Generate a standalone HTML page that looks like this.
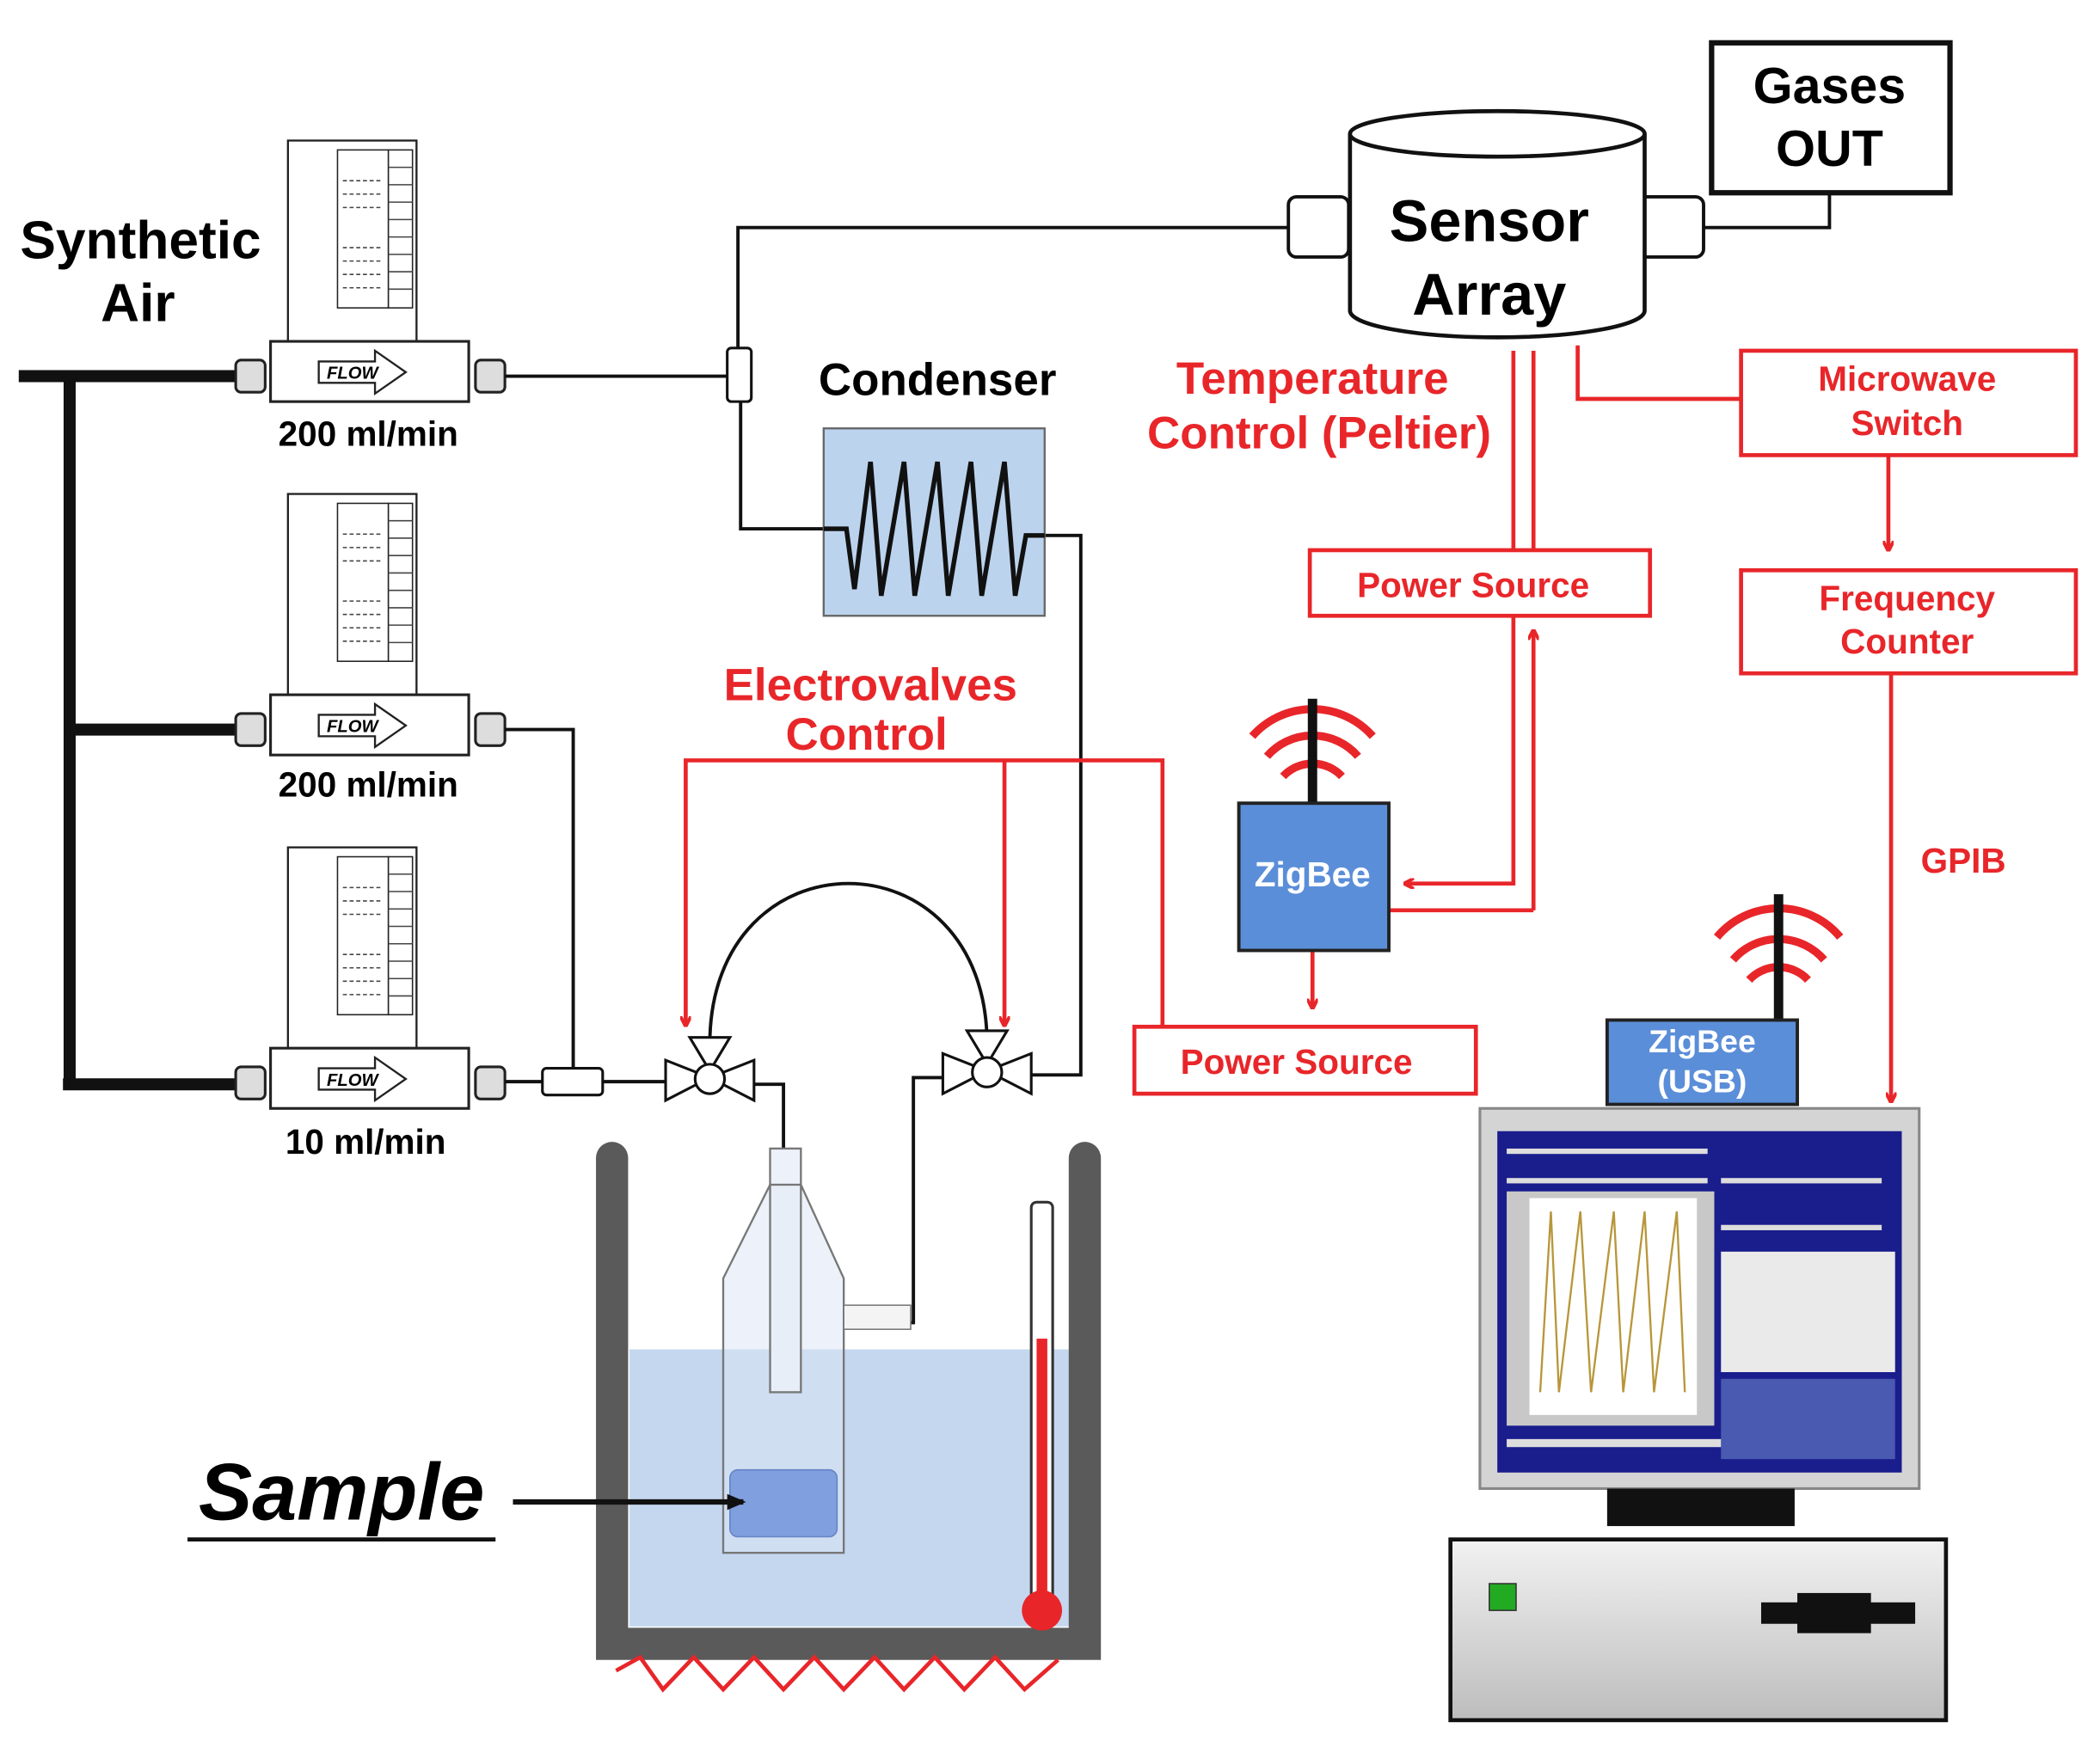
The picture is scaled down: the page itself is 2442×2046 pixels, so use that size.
<!DOCTYPE html>
<html><head><meta charset="utf-8"><style>
html,body{margin:0;padding:0;background:#fff}
svg{display:block}
text{font-family:"Liberation Sans",sans-serif;font-weight:bold}
</style></head><body>
<svg width="2442" height="2046" viewBox="0 0 1568 1314" preserveAspectRatio="none" xmlns="http://www.w3.org/2000/svg">
<defs>
<marker id="ar" markerWidth="8" markerHeight="8" refX="6" refY="4" orient="auto" markerUnits="userSpaceOnUse"><path d="M0,0 L8,4 L0,8" fill="none" stroke="#e8262a" stroke-width="2.5"/></marker>
<marker id="ab" markerWidth="14" markerHeight="12" refX="12" refY="6" orient="auto" markerUnits="userSpaceOnUse"><path d="M0,0 L14,6 L0,12 Z" fill="#111"/></marker>
<linearGradient id="pc" x1="0" y1="0" x2="0" y2="1"><stop offset="0" stop-color="#f2f2f2"/><stop offset="1" stop-color="#bdbdbd"/></linearGradient>
</defs>
<rect width="1568" height="1314" fill="#fff"/>

<!-- Synthetic air -->
<text x="105" y="193" font-size="40" text-anchor="middle">Synthetic</text>
<text x="103" y="240" font-size="40" text-anchor="middle">Air</text>
<g stroke="#111" stroke-width="9" fill="none">
<path d="M14,281 H178"/><path d="M52,281 V812"/><path d="M52,545 H178"/><path d="M47,810 H178"/>
</g>

<!-- flowmeters -->
<g id="fm">
<rect x="215" y="105" width="96" height="150" fill="#fff" stroke="#222" stroke-width="1.5"/>
<rect x="252" y="112" width="38" height="118" fill="#fff" stroke="#222"/>
<rect x="290" y="112" width="18" height="118" fill="#fff" stroke="#222"/>
<g stroke="#444" stroke-width="1"><path d="M290,125H308M290,138H308M290,151H308M290,164H308M290,177H308M290,190H308M290,203H308M290,216H308"/>
<path d="M256,135H285M256,145H285M256,155H285M256,185H285M256,195H285M256,205H285M256,215H285" stroke-dasharray="3 2"/></g>
<rect x="202" y="255" width="148" height="45" fill="#fff" stroke="#222" stroke-width="2"/>
<path d="M238,270 H280 V262 L303,278 L280,294 V286 H238 Z" fill="#fff" stroke="#222" stroke-width="1.5"/>
<text x="244" y="283" font-size="13" font-weight="normal" font-style="italic">FLOW</text>
<rect x="176" y="269" width="22" height="24" rx="4" fill="#ddd" stroke="#222" stroke-width="2"/>
<rect x="355" y="269" width="22" height="24" rx="4" fill="#ddd" stroke="#222" stroke-width="2"/>
</g>
<use href="#fm" y="264"/>
<use href="#fm" y="528"/>
<text x="275" y="333" font-size="26" text-anchor="middle">200 ml/min</text>
<text x="275" y="595" font-size="26" text-anchor="middle">200 ml/min</text>
<text x="273" y="862" font-size="26" text-anchor="middle">10 ml/min</text>

<!-- gas lines -->
<g stroke="#111" stroke-width="2.5" fill="none">
<path d="M377,281 H545"/><path d="M551,262 V170 H962"/><path d="M553,300 V395 H615"/>
<path d="M377,545 H428 V800"/><path d="M377,808 H405"/><path d="M450,808 H497"/>
<path d="M770,400 H807 V803 H770"/>
<path d="M530,780 C530,620 737,620 737,780"/>
<path d="M563,810 H585 V858"/>
<path d="M705,805 H682 V988 H630"/>
<path d="M1272,170 H1366 V145"/>
</g>
<rect x="543" y="260" width="18" height="40" rx="3" fill="#fff" stroke="#111" stroke-width="2"/>
<rect x="405" y="798" width="45" height="20" rx="3" fill="#fff" stroke="#111" stroke-width="2"/>

<!-- condenser -->
<text x="700" y="295" font-size="34" text-anchor="middle">Condenser</text>
<rect x="615" y="320" width="165" height="140" fill="#bcd3ee" stroke="#666" stroke-width="1.5"/>
<path d="M615,395 H632 L638,440 L650,345 L658,445 L675,345 L683,445 L700,345 L708,445 L725,345 L733,445 L750,345 L758,445 L766,400 H780" fill="none" stroke="#111" stroke-width="3.5"/>

<!-- valves -->
<g id="vl" fill="#fff" stroke="#111" stroke-width="2">
<path d="M497,792 L530,805 L497,822 Z"/><path d="M563,792 L530,805 L563,822 Z"/><path d="M515,775 H545 L530,800 Z"/><circle cx="530" cy="806" r="11"/>
</g>
<use href="#vl" x="207" y="-5"/>

<!-- bath -->
<rect x="470" y="1008" width="330" height="207" fill="#c5d7ef"/>
<path d="M457,865 V1228 H810 V865" fill="none" stroke="#5a5a5a" stroke-width="24" stroke-linecap="round"/>
<path d="M460,1248 L478,1238 L495,1262 L518,1238 L540,1262 L563,1238 L585,1262 L608,1238 L630,1262 L653,1238 L675,1262 L698,1238 L720,1262 L743,1238 L765,1262 L790,1240" fill="none" stroke="#e8262a" stroke-width="3"/>
<!-- bottle -->
<path d="M575,858 H598 V885 L630,955 V1160 H540 V955 L575,885 Z" fill="#dce6f5" fill-opacity="0.5" stroke="#777" stroke-width="1.5"/>
<rect x="575" y="885" width="23" height="155" fill="#e8eef8" stroke="#777" stroke-width="1.5"/>
<rect x="545" y="1098" width="80" height="50" rx="6" fill="#7f9fde" stroke="#6683c4"/>
<rect x="630" y="975" width="50" height="18" fill="#f4f4f4" stroke="#777"/>
<!-- thermometer -->
<rect x="770" y="898" width="16" height="300" rx="4" fill="#fff" stroke="#333" stroke-width="2"/>
<rect x="774" y="1000" width="8" height="200" fill="#e8262a"/>
<circle cx="778" cy="1203" r="15" fill="#e8262a"/>
<!-- sample -->
<text x="255" y="1135" font-size="60" font-style="italic" text-anchor="middle">Sample</text>
<path d="M140,1150 H370" stroke="#111" stroke-width="3"/>
<path d="M383,1122 H555" stroke="#111" stroke-width="4" marker-end="url(#ab)"/>

<!-- sensor array -->
<rect x="962" y="147" width="45" height="45" rx="6" fill="#fff" stroke="#111" stroke-width="2.5"/>
<rect x="1220" y="147" width="52" height="45" rx="6" fill="#fff" stroke="#111" stroke-width="2.5"/>
<path d="M1008,100 V232 A110,20 0 0 0 1228,232 V100" fill="#fff" stroke="#111" stroke-width="3"/>
<ellipse cx="1118" cy="100" rx="110" ry="17" fill="#fff" stroke="#111" stroke-width="3"/>
<text x="1112" y="180" font-size="44" text-anchor="middle">Sensor</text>
<text x="1112" y="235" font-size="44" text-anchor="middle">Array</text>
<rect x="1278" y="32" width="178" height="112" fill="#fff" stroke="#111" stroke-width="4"/>
<text x="1366" y="77" font-size="38" text-anchor="middle">Gases</text>
<text x="1366" y="124" font-size="38" text-anchor="middle">OUT</text>

<!-- red control -->
<g fill="#e8262a" font-size="34">
<text x="980" y="294" text-anchor="middle">Temperature</text>
<text x="985" y="335" text-anchor="middle">Control (Peltier)</text>
<text x="650" y="523" text-anchor="middle">Electrovalves</text>
<text x="647" y="560" text-anchor="middle">Control</text>
<text x="1466" y="652" font-size="26" text-anchor="middle">GPIB</text>
</g>
<g stroke="#e8262a" stroke-width="3" fill="none">
<path d="M1130,262 V410"/><path d="M1145,262 V410"/>
<path d="M1178,258 V298 H1300"/>
<path d="M1410,340 V410" marker-end="url(#ar)"/>
<path d="M1412,503 V822" marker-end="url(#ar)"/>
<path d="M1145,680 V472" marker-end="url(#ar)"/>
<path d="M1130,460 V660 H1050" marker-end="url(#ar)"/>
<path d="M1038,680 H1145"/>
<path d="M980,710 V752" marker-end="url(#ar)"/>
<path d="M868,767 V568 H512 V765" marker-end="url(#ar)"/>
<path d="M750,568 V765" marker-end="url(#ar)"/>
</g>
<g fill="#fff" stroke="#e8262a" stroke-width="3">
<rect x="978" y="411" width="254" height="49"/>
<rect x="1300" y="262" width="250" height="78"/>
<rect x="1300" y="426" width="250" height="77"/>
<rect x="847" y="767" width="255" height="50"/>
</g>
<g fill="#e8262a" font-size="26" text-anchor="middle">
<text x="1100" y="446">Power Source</text>
<text x="1424" y="292">Microwave</text>
<text x="1424" y="325">Switch</text>
<text x="1424" y="456">Frequency</text>
<text x="1424" y="488">Counter</text>
<text x="968" y="802">Power Source</text>
</g>

<!-- zigbee -->
<g stroke="#e8262a" stroke-width="6" fill="none">
<path d="M958,580 A30,30 0 0 1 1002,580"/><path d="M946,565 A45,45 0 0 1 1014,565"/><path d="M935,550 A60,60 0 0 1 1025,550"/>
<path d="M1306,732 A30,30 0 0 1 1350,732"/><path d="M1294,717 A45,45 0 0 1 1362,717"/><path d="M1282,700 A60,60 0 0 1 1374,700"/>
</g>
<path d="M980,522 V600" stroke="#111" stroke-width="7"/>
<path d="M1328,668 V762" stroke="#111" stroke-width="7"/>
<rect x="925" y="600" width="112" height="110" fill="#5b8ed8" stroke="#222" stroke-width="2.5"/>
<text x="980" y="662" font-size="26" fill="#fff" font-weight="normal" text-anchor="middle">ZigBee</text>
<rect x="1200" y="762" width="142" height="63" fill="#5b8ed8" stroke="#222" stroke-width="2.5"/>
<text x="1271" y="786" font-size="24" fill="#fff" font-weight="normal" text-anchor="middle">ZigBee</text>
<text x="1271" y="816" font-size="24" fill="#fff" font-weight="normal" text-anchor="middle">(USB)</text>

<!-- computer -->
<rect x="1105" y="828" width="328" height="284" fill="#d4d4d4" stroke="#888" stroke-width="2"/>
<rect x="1118" y="845" width="302" height="255" fill="#1a1d8c"/>
<rect x="1125" y="890" width="155" height="175" fill="#c8c8c8"/>
<rect x="1142" y="895" width="125" height="162" fill="#fff"/>
<path d="M1150,1040 L1158,905 L1164,1040 L1180,905 L1188,1040 L1205,905 L1212,1040 L1228,905 L1235,1040 L1252,905 L1258,1040" fill="none" stroke="#b8963a" stroke-width="1.5"/>
<rect x="1285" y="935" width="130" height="90" fill="#eaeaea"/>
<rect x="1285" y="1030" width="130" height="60" fill="#4a5ab0"/>
<g fill="#ddd"><rect x="1125" y="858" width="150" height="4"/><rect x="1125" y="880" width="150" height="4"/><rect x="1285" y="880" width="120" height="4"/><rect x="1285" y="915" width="120" height="4"/><rect x="1125" y="1075" width="160" height="6"/></g>
<rect x="1200" y="1112" width="140" height="28" fill="#111"/>
<rect x="1083" y="1150" width="370" height="135" fill="url(#pc)" stroke="#111" stroke-width="3"/>
<rect x="1112" y="1183" width="20" height="20" fill="#22aa22" stroke="#333"/>
<rect x="1315" y="1197" width="115" height="16" fill="#111"/>
<rect x="1342" y="1190" width="55" height="30" fill="#111"/>
</svg>
</body></html>
